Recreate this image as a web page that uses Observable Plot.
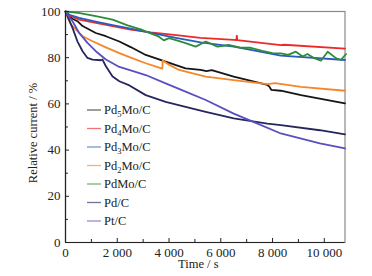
<!DOCTYPE html>
<html><head><meta charset="utf-8">
<script src="https://cdn.jsdelivr.net/npm/d3@7"></script>
<script src="https://cdn.jsdelivr.net/npm/@observablehq/plot@0.6"></script>
<style>
body{margin:0;background:#fff}
#chart svg{display:block}
#chart svg, #chart svg text{font-family:"Liberation Serif","DejaVu Serif",serif !important;}
</style>
</head><body><div id="chart"></div>
<script>
// Series names and colours
const seriesNames = ["Pd5Mo/C", "Pd4Mo/C", "Pd3Mo/C", "Pd2Mo/C", "PdMo/C", "Pd/C", "Pt/C"];
const seriesColors = ["#151515", "#ec2a2a", "#2a5cc0", "#f5862a", "#2f8a3a", "#26265e", "#5a4fc0"];

// Time (s) and relative current (%)
const pd5moT = [0, 100, 250, 460, 660, 1170, 1560, 2080, 2520, 3100, 3870, 4640, 5220, 5450, 5650, 6500, 7800, 7870, 7950, 8320, 9100, 10800];
const pd5moV = [100, 98.5, 97, 95.8, 93.7, 90.7, 89.3, 87, 84.6, 81.2, 78.3, 75.4, 74.7, 74.2, 74.6, 71.8, 68.2, 67.6, 66.1, 65.7, 63.8, 60.2];

const pd4moT = [0, 150, 530, 1170, 1820, 2520, 3290, 4370, 5220, 6500, 6600, 6620, 6640, 8320, 8450, 10800];
const pd4moV = [100, 98.3, 96.5, 95.1, 93.7, 92.2, 91.0, 89.7, 88.6, 87.7, 87.6, 89.5, 87.6, 85.4, 85.6, 83.9];

const pd3moT = [0, 150, 530, 1170, 1820, 2520, 3300, 4370, 5220, 6500, 8320, 10800];
const pd3moV = [100, 98.6, 97.2, 95.6, 94.1, 92.6, 90.7, 88.4, 86.6, 84.8, 80.9, 79];

const pd2moT = [0, 100, 200, 400, 660, 1045, 1560, 2080, 2520, 3100, 3740, 3760, 4000, 4385, 5420, 6500, 7800, 8100, 9100, 10800];
const pd2moV = [100, 97, 94.5, 92.2, 89.3, 87.1, 84.5, 82, 80, 77.6, 75.3, 78.8, 77, 74.7, 71.8, 70.3, 68.6, 69, 67.4, 65.7];

const pdmoT = [0, 500, 1170, 1820, 2400, 2970, 3290, 3610, 3800, 4000, 4300, 4640, 5030, 5420, 5870, 6300, 6800, 7160, 7600, 8000, 8320, 8600, 8900, 9160, 9350, 9610, 9870, 10130, 10450, 10640, 10840];
const pdmoV = [100, 99.4, 98, 96.5, 94, 92, 90.5, 89.1, 87.5, 88.5, 87.5, 86.3, 84.8, 87, 84.8, 85.5, 84.3, 84.3, 83, 82, 81.9, 81.2, 82.6, 80.5, 81.6, 79.8, 78.7, 82.6, 79.8, 79, 81.6];

const pdT = [0, 80, 270, 460, 660, 850, 1045, 1370, 1430, 1560, 1820, 2080, 2470, 3100, 3870, 4640, 5420, 6500, 7800, 8320, 9830, 10800];
const pdV = [100, 98, 92.9, 87.1, 82.8, 79.9, 79.2, 78.9, 79.2, 76.3, 71.9, 69.8, 68, 63.8, 60.9, 58.7, 56.6, 53.7, 51.5, 50.8, 48.6, 46.8];

const ptT = [0, 80, 270, 530, 850, 1170, 1560, 2080, 2520, 3100, 3870, 4640, 5420, 6500, 7260, 8320, 9830, 10800];
const ptV = [100, 98.5, 95.8, 90.7, 86.4, 82.8, 79.2, 76, 74.5, 72.5, 68.9, 65.3, 61.7, 55.8, 52.2, 47.2, 42.9, 40.7];

// Tick values
const xMajorTicks = [0, 2000, 4000, 6000, 8000, 10000];
const xMinorTicks = [1000, 3000, 5000, 7000, 9000];
const yMajorTicks = [0, 20, 40, 60, 80, 100];
const yMinorTicks = [10, 30, 50, 70, 90];

const seriesT = [pd5moT, pd4moT, pd3moT, pd2moT, pdmoT, pdT, ptT];
const seriesV = [pd5moV, pd4moV, pd3moV, pd2moV, pdmoV, pdV, ptV];
const rows = [];
seriesNames.forEach((name, i) => {
  seriesT[i].forEach((t, j) => rows.push({series: name, t, v: seriesV[i][j]}));
});

const W = 372, H = 276, mt = 11, mb = 34, ml = 65, mr = 27.5;
const innerH = H - mt - mb, innerW = W - ml - mr;
const fmt = d => String(d).replace(/\B(?=(\d{3})+(?!\d))/g, " ");
const FONT = "Liberation Serif";

const plot = Plot.plot({
  width: W, height: H,
  marginTop: mt, marginBottom: mb, marginLeft: ml, marginRight: mr,
  style: {fontFamily: FONT, fontSize: "13px", color: "#222", background: "#fff"},
  x: {domain: [0, 10800]},
  y: {domain: [0, 100]},
  color: {domain: seriesNames, range: seriesColors},
  marks: [
    Plot.frame({stroke: "#8a8a8a", strokeWidth: 1.2}),
    Plot.line(rows, {x: "t", y: "v", z: "series", stroke: "series", strokeWidth: 1.8, curve: "linear"}),
    Plot.ruleX([0], {stroke: "#222", strokeWidth: 1.2}),
    Plot.ruleY([0], {stroke: "#222", strokeWidth: 1.2}),
    Plot.tickX(xMajorTicks, {x: d => d, insetTop: innerH - 4, stroke: "#222"}),
    Plot.tickX(xMinorTicks, {x: d => d, insetTop: innerH - 3, stroke: "#222"}),
    Plot.tickY(yMajorTicks, {y: d => d, insetRight: innerW - 4, stroke: "#222"}),
    Plot.tickY(yMinorTicks, {y: d => d, insetRight: innerW - 3, stroke: "#222"}),
    Plot.axisX(xMajorTicks, {tickSize: 0, tickPadding: 5, tickFormat: fmt, label: null, fontSize: 13}),
    Plot.axisY(yMajorTicks, {tickSize: 0, tickPadding: 5, label: null, fontSize: 13}),
    Plot.text(["Time / s"], {frameAnchor: "bottom", textAnchor: "middle", dy: 25, dx: -7, fontSize: 12.5}),
    Plot.text(["Relative current / %"], {frameAnchor: "left", textAnchor: "middle", rotate: -90, dx: -33, dy: 6, fontSize: 12.5})
  ]
});
document.getElementById("chart").appendChild(plot);

const svg = d3.select(plot).attr("font-family", FONT);

// Legend inside the plot area
const lg = svg.append("g").attr("font-family", FONT).attr("font-size", 12.5).attr("fill", "#222").attr("text-anchor", "start");
seriesNames.forEach((name, i) => {
  const y = 110 + i * 18.5;
  lg.append("line").attr("x1", 87).attr("x2", 101).attr("y1", y).attr("y2", y)
    .attr("stroke", seriesColors[i]).attr("stroke-opacity", 0.65).attr("stroke-width", 1.3);
  const t = lg.append("text").attr("x", 104).attr("y", y).attr("dy", "0.35em").attr("text-anchor", "start");
  const m = name.match(/^(Pd)(\d)(.*)$/);
  if (m) {
    t.append("tspan").text(m[1]);
    t.append("tspan").attr("font-size", 8.5).attr("dy", 3).text(m[2]);
    t.append("tspan").attr("dy", -3).text(m[3]);
  } else {
    t.text(name);
  }
});
</script>
</body></html>
